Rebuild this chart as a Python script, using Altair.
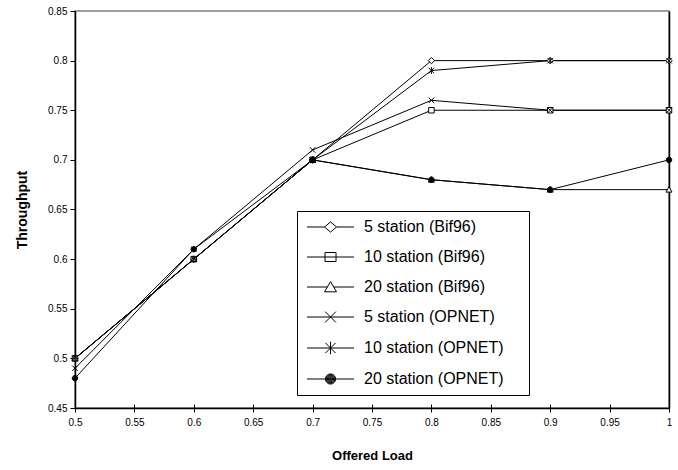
import altair as alt
import pandas as pd

# ---------------- data ----------------
load = [0.5, 0.6, 0.7, 0.8, 0.9, 1.0]
series_names = [
    "5 station (Bif96)",
    "10 station (Bif96)",
    "20 station (Bif96)",
    "5 station (OPNET)",
    "10 station (OPNET)",
    "20 station (OPNET)",
]
bif96_5 = [0.50, 0.60, 0.70, 0.80, 0.80, 0.80]
bif96_10 = [0.50, 0.60, 0.70, 0.75, 0.75, 0.75]
bif96_20 = [0.50, 0.60, 0.70, 0.68, 0.67, 0.67]
opnet_5 = [0.49, 0.61, 0.71, 0.76, 0.75, 0.75]
opnet_10 = [0.50, 0.60, 0.70, 0.79, 0.80, 0.80]
opnet_20 = [0.48, 0.61, 0.70, 0.68, 0.67, 0.70]
x_tick_values = [0.5, 0.55, 0.6, 0.65, 0.7, 0.75, 0.8, 0.85, 0.9, 0.95, 1.0]
y_tick_values = [0.45, 0.5, 0.55, 0.6, 0.65, 0.7, 0.75, 0.8, 0.85]

series_values = [bif96_5, bif96_10, bif96_20, opnet_5, opnet_10, opnet_20]
rows = []
for name, vals in zip(series_names, series_values):
    for xv, yv in zip(load, vals):
        rows.append({"series": name, "load": xv, "throughput": yv})
df = pd.DataFrame(rows)

# ---------------- marker shapes (style) ----------------
def r3(v):
    return round(v, 3)

def diamond(m, w, h):
    return f"M{r3(m)},{-h}L{r3(m + w)},0L{r3(m)},{h}L{r3(m - w)},0Z"

def square(m, w, h):
    return f"M{r3(m - w)},{-h}H{r3(m + w)}V{h}H{r3(m - w)}Z"

def triangle(m, w, top, bot):
    return f"M{r3(m)},{-top}L{r3(m + w)},{bot}L{r3(m - w)},{bot}Z"

def xmark(m, r):
    return f"M{r3(m - r)},{-r}L{r3(m + r)},{r}M{r3(m - r)},{r}L{r3(m + r)},{-r}"

def asterisk(m, r, v):
    return xmark(m, r) + f"M{r3(m)},{-v}V{v}"

def circle(m, r):
    return (f"M{r3(m + r)},0A{r},{r},0,1,1,{r3(m - r)},0"
            f"A{r},{r},0,1,1,{r3(m + r)},0Z")

def solid_disc(m, r, step):
    out = ""
    rr = r
    while rr > 0.02:
        out += circle(m, r3(rr))
        rr -= step
    return out

plot_shapes = [
    diamond(0, 1.15, 1.15),
    square(0, 1.0, 1.0),
    triangle(0, 1.1, 1.1, 0.9),
    xmark(0, 1.0),
    asterisk(0, 1.0, 1.25),
    circle(0, 1.0),
]

M = 2.92      # marker centre inside the legend line (units)
L0, L1 = -1.0, 6.83
EXT = "M34.3,0"

def seg(gap=None):
    if gap is None:
        return f"M{L0},0H{L1}"
    return f"M{L0},0H{r3(M - gap)}M{r3(M + gap)},0H{L1}"

legend_shapes = [
    seg(1.0) + diamond(M, 1.0, 0.85) + EXT,
    seg() + square(M, 0.92, 0.75) + EXT,
    seg(0.53) + triangle(M, 1.0, 0.9, 0.8) + EXT,
    seg() + xmark(M, 0.9) + EXT,
    seg() + asterisk(M, 0.85, 1.05) + EXT,
    seg() + solid_disc(M, 0.85, 0.12) + EXT,
]
fill_colors = ["white", "white", "white", "white", "white", "black"]

W, H = 594, 397

x_scale = alt.Scale(domain=[0.5, 1.0], nice=False, zero=False)
y_scale = alt.Scale(domain=[0.45, 0.85], nice=False, zero=False)

base = alt.Chart(df)

lines = base.mark_line(color="black", strokeWidth=1).encode(
    x=alt.X("load:Q", scale=x_scale, axis=alt.Axis(
        values=x_tick_values, format="~g", orient="bottom",
        title="Offered Load", titleFontSize=13, titleFontWeight="bold",
        titleY=47, titleBaseline="middle", labelFlush=False,
        tickSize=4, labelPadding=5, domainWidth=1.5)),
    y=alt.Y("throughput:Q", scale=y_scale, axis=alt.Axis(
        values=y_tick_values, format="~g", orient="left",
        title="Throughput", titleFontSize=14, titleFontWeight="bold",
        titleX=-53, titleBaseline="middle", labelFlush=False,
        tickSize=5, labelPadding=3, domainWidth=1.5)),
    detail="series:N",
)

points = base.mark_point(filled=True, stroke="black", strokeWidth=1,
                         size=30, opacity=1).encode(
    x=alt.X("load:Q", scale=x_scale, axis=alt.Axis(
        values=x_tick_values, orient="top", offset=-H, labels=False,
        domain=False, ticks=True, tickSize=4, title=None)),
    y=alt.Y("throughput:Q", scale=y_scale, axis=alt.Axis(
        orient="right", labels=False, ticks=False, domain=True,
        domainWidth=1.5, title=None)),
    shape=alt.Shape("series:N", scale=alt.Scale(domain=series_names, range=plot_shapes),
                    legend=None),
    fill=alt.Fill("series:N", scale=alt.Scale(domain=series_names, range=fill_colors),
                  legend=None),
)

legend_def = alt.Legend(
    title=None, orient="none", legendX=222, legendY=200, direction="vertical",
    padding=8, strokeColor="black", fillColor="white", cornerRadius=0,
    labelFont="Liberation Sans", labelFontSize=16, labelColor="black",
    labelOffset=43, labelLimit=300, symbolSize=144,
    symbolStrokeWidth=1, symbolOpacity=1, rowPadding=14,
)

legend_layer = base.mark_point(filled=True, fill="white", stroke="black",
                               strokeWidth=1, size=0, opacity=1).encode(
    x=alt.X("load:Q", scale=x_scale, axis=None),
    y=alt.Y("throughput:Q", scale=y_scale, axis=None),
    shape=alt.Shape("series:N", scale=alt.Scale(domain=series_names, range=legend_shapes),
                    legend=legend_def),
)

chart = alt.layer(lines, points, legend_layer).resolve_axis(
    x="independent", y="independent"
).resolve_scale(shape="independent").properties(
    width=W, height=H,
    autosize=alt.AutoSizeParams(type="none"),
    padding={"left": 75, "top": 11, "right": 9, "bottom": 62},
).configure(font="Liberation Sans").configure_axis(
    labelFont="Liberation Sans", labelFontSize=10, labelColor="black",
    titleFont="Liberation Sans", titleColor="black",
    grid=False, domainColor="black", tickColor="black", tickWidth=1,
).configure_view(stroke="#808080", strokeWidth=1.5)

chart.save("out.html", embed_options={"renderer": "svg", "actions": False})
